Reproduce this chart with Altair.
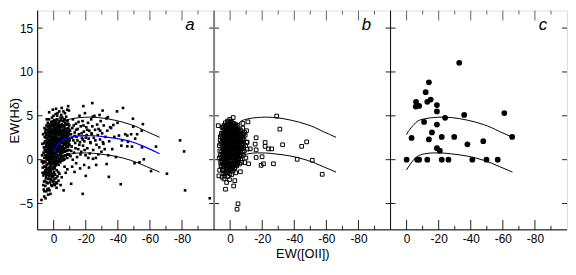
import altair as alt
import pandas as pd

# ------------------------------------------------------------------ data
PANELS = ["a", "b", "c"]

# panel a : EW([OII]) , EW(Hd)  (small filled squares)
A_PTS = [
    (5.8,0.2),(6.1,1.4),(5.6,2.6),(5.9,-0.8),(5.4,3.1),
    (5.1,-0.3),(4.9,0.9),(5.3,2.1),(5.0,3.4),(4.7,1.7),(5.2,-1.2),
    (4.4,0.5),(4.2,1.9),(4.6,2.8),(4.3,-0.6),(4.5,3.9),(4.0,1.1),(4.1,-1.5),
    (3.7,0.0),(3.5,1.3),(3.9,2.4),(3.6,3.2),(3.8,-1.0),(3.4,0.7),(3.7,4.2),(3.3,1.8),
    (3.0,-0.4),(2.8,0.8),(3.1,1.6),(2.9,2.2),(3.2,2.9),(2.7,3.6),(3.0,-1.3),(2.6,0.3),(2.9,4.6),
    (2.3,0.1),(2.1,1.0),(2.5,1.9),(2.2,2.6),(2.4,3.3),(2.0,-0.7),(2.3,0.6),(2.1,4.0),(2.4,-1.6),(1.9,2.0),
    (1.6,-0.2),(1.4,0.5),(1.8,1.2),(1.5,2.1),(1.7,2.8),(1.3,3.5),(1.6,4.3),(1.4,-0.9),(1.8,1.7),(1.2,0.9),
    (0.9,0.3),(0.7,1.1),(1.1,1.8),(0.8,2.5),(1.0,3.0),(0.6,3.8),(0.9,-0.5),(0.7,-1.1),(1.0,4.8),(0.5,1.4),(0.8,2.2),
    (0.2,0.0),(0.0,0.8),(0.4,1.5),(0.1,2.3),(0.3,2.9),(-0.1,3.4),(0.2,4.1),(0.0,-0.8),(0.3,1.0),(0.1,5.0),(-0.2,-1.4),
    (-0.5,0.4),(-0.7,1.2),(-0.3,2.0),(-0.6,2.7),(-0.4,3.2),(-0.8,3.9),(-0.5,-0.3),(-0.7,1.6),(-0.4,4.5),(-0.6,-1.0),(-0.9,2.4),
    (-1.2,-0.1),(-1.4,0.7),(-1.0,1.4),(-1.3,2.2),(-1.1,3.0),(-1.5,3.6),(-1.2,4.4),(-1.4,1.9),(-1.0,-0.7),(-1.3,5.2),
    (-1.9,0.2),(-2.1,1.0),(-1.7,1.8),(-2.0,2.5),(-1.8,3.1),(-2.2,3.8),(-1.9,4.6),(-2.1,-0.4),(-1.7,2.9),(-2.2,1.3),
    (-2.6,0.5),(-2.8,1.3),(-2.4,2.1),(-2.7,2.8),(-2.5,3.4),(-2.9,4.1),(-2.6,-0.2),(-2.8,1.7),(-2.4,5.3),(-2.7,0.9),
    (-3.3,0.0),(-3.5,0.9),(-3.1,1.6),(-3.4,2.4),(-3.2,3.0),(-3.6,3.7),(-3.3,4.3),(-3.5,2.0),(-3.1,-0.6),
    (-4.0,0.6),(-4.2,1.4),(-3.8,2.2),(-4.1,2.9),(-3.9,3.5),(-4.3,4.8),(-4.0,1.1),(-4.2,-0.3),(-3.8,3.2),
    (-4.7,0.3),(-4.9,1.0),(-4.5,1.9),(-4.8,2.6),(-4.6,3.3),(-5.0,4.0),(-4.7,5.1),(-4.9,2.3),
    (-5.4,0.8),(-5.6,1.5),(-5.2,2.4),(-5.5,3.1),(-5.3,3.8),(-5.7,4.4),(-5.4,-0.1),(-5.6,1.9),
    (-6.1,0.4),(-6.3,1.2),(-5.9,2.0),(-6.2,2.8),(-6.0,3.4),(-6.4,4.6),(-6.1,5.5),(-6.3,2.5),
    (-6.8,0.9),(-7.0,1.7),(-6.6,2.3),(-6.9,3.0),(-6.7,3.7),(-7.1,4.2),(-6.8,0.1),
    (-7.5,0.5),(-7.7,1.4),(-7.3,2.1),(-7.6,2.7),(-7.4,3.5),(-7.8,4.9),(-7.5,1.8),
    (-8.2,1.0),(-8.4,1.9),(-8.0,2.6),(-8.3,3.2),(-8.1,4.0),(-8.5,0.2),(-8.2,2.9),
    (-8.9,0.6),(-9.1,1.5),(-8.7,2.3),(-9.0,3.6),(-8.8,4.5),(-9.2,2.0),
    (-9.6,1.1),(-9.8,2.4),(-9.4,3.0),(-9.7,3.9),(-9.5,5.6),(-9.9,1.7),
    # right part of the cloud
    (-10.5,0.4),(-10.8,2.9),(-11.2,1.5),(-11.6,3.6),(-12.0,4.6),(-12.3,2.2),(-12.7,0.8),(-13.1,3.1),
    (-13.4,1.9),(-13.9,4.1),(-14.2,2.6),(-14.6,0.3),(-15.0,3.5),(-15.3,1.2),(-15.7,2.9),(-16.1,5.0),
    (-16.4,2.0),(-16.9,3.8),(-17.2,0.9),(-17.6,2.5),(-18.0,4.4),(-18.3,1.6),(-18.8,3.2),(-19.1,2.1),
    (-19.5,5.3),(-19.9,0.5),(-20.3,3.7),(-20.6,2.8),(-21.0,1.3),(-21.4,4.2),(-21.8,2.4),(-22.2,3.3),
    (-22.5,0.7),(-23.0,1.9),(-23.4,4.6),(-23.8,2.9),(-24.1,3.8),(-24.6,1.1),(-25.0,2.5),(-25.4,5.0),
    (-25.8,3.4),(-26.3,0.2),(-26.7,1.7),(-27.1,4.0),(-27.5,2.8),(-28.0,3.5),(-28.4,1.4),(-28.9,2.3),
    (-29.3,4.4),(-29.8,0.9),(-30.2,3.0),(-30.7,2.0),(-31.2,3.9),(-31.8,1.2),(-32.3,2.6),(-32.9,4.7),
    (-33.4,3.3),(-34.0,0.5),(-34.6,2.1),(-35.2,3.7),
    (-10.2,3.3),(-10.9,1.0),(-11.4,2.5),(-11.9,0.0),(-12.5,3.9),(-13.0,2.7),(-13.6,1.3),(-14.0,3.4),
    (-14.8,2.2),(-15.5,4.3),(-16.0,1.7),(-16.7,0.6),(-17.4,3.0),(-18.1,2.3),(-18.6,3.9),(-19.3,1.1),
    (-20.0,2.5),(-20.9,3.4),(-21.6,0.2),(-22.8,2.0),(-23.6,3.0),(-24.4,4.9),(-26.0,2.2),(-27.8,0.6),(-29.0,3.3),
    (-11.5,-0.8),(-14.0,-0.4),(-16.5,-1.0),(-13.0,-1.4),(-19.0,-0.6),(-22.0,-0.9),(-24.5,0.1),
    # lower-left tail
    (6.8,-0.9),(6.4,-1.8),(6.0,-2.5),(5.6,-1.4),(5.2,-3.0),(4.8,-2.1),(4.5,-3.6),(4.1,-1.7),
    (3.8,-2.7),(3.4,-2.2),(3.1,-3.3),(2.7,-1.9),(2.4,-2.6),(2.0,-3.9),(1.7,-2.3),(1.3,-1.8),
    (1.0,-3.0),(0.6,-2.5),(0.3,-1.9),(-0.1,-2.8),(-0.5,-2.2),(-0.9,-1.7),(-1.3,-2.6),(-1.8,-3.2),
    (-2.4,-1.9),(-3.0,-2.4),(-3.6,-1.6),(-4.3,-2.9),(5.9,-4.2),(7.6,-4.6),(5.1,-4.4),(3.5,-4.0),
    (6.2,-3.4),(2.6,-3.5),(-6.2,-3.5),(-5.0,-2.0),(-7.5,-1.5),(-8.5,-1.1),(-6.8,-0.8),(-10.9,-2.75),
    (7.2,0.5),(7.0,1.8),(6.6,2.9),(7.4,-0.2),
    # upper fringe
    (2.8,5.4),(0.5,5.7),(-1.5,5.8),(-3.5,5.5),(-5.0,5.9),(-7.0,5.3),(-8.5,5.7),(-2.2,5.0),(4.3,4.6),(-9.0,6.1),
    # sparse points
    (-24.1,6.45),(-18.5,6.1),(-43.2,5.9),(-39.5,5.5),(-49.4,4.67),(-55.6,4.05),(-28.6,5.1),(-33.8,4.85),
    (-37.2,3.95),(-35.8,3.6),(-49.6,3.77),(-44.6,2.9),(-48.3,2.9),(-52.0,2.9),(-54.9,3.3),(-40.7,2.75),
    (-45.9,2.75),(-50.8,2.4),(-42.6,2.2),(-46.3,2.03),(-42.2,1.6),(-45.9,1.52),(-48.8,1.49),(-55.1,1.41),
    (-63.8,1.49),(-78.8,2.2),(-81.3,0.94),(-56.2,0.04),(-53.5,-0.3),(-50.4,-0.4),(-60.7,-1.3),(-70.6,-1.6),
    (-41.8,-2.8),(-81.9,-3.5),(-97.3,-4.4),(-34.4,-1.96),(-20.0,-1.85),(-18.1,-3.9),(-36.5,1.2),(-38.8,0.3),
    (-33.0,-0.5),(-31.0,1.8),(-37.8,2.6),(-39.8,4.2),(-30.5,5.6),(-26.5,-0.6),
]
# panel a : more points of the dense core
A_EXTRA = [
    (6.3,0.8),(5.9,1.9),(6.0,-0.2),(5.7,3.6),(5.5,-1.6),(5.4,0.5),(5.6,1.1),
    (4.9,-0.8),(5.1,1.4),(4.8,2.5),(5.0,0.2),(4.7,3.0),(4.6,-1.9),
    (4.3,0.0),(4.1,0.8),(4.4,1.5),(4.2,2.3),(4.0,3.4),(4.5,-1.1),(3.9,2.0),
    (3.6,-0.5),(3.4,0.4),(3.8,1.0),(3.5,1.7),(3.3,2.7),(3.7,3.7),(3.5,-1.7),(3.9,0.3),
    (3.1,0.1),(2.9,1.2),(3.2,1.9),(2.8,2.6),(3.0,3.3),(2.7,-0.9),(3.1,4.0),(2.8,-0.1),
    (2.5,-0.3),(2.3,1.4),(2.6,2.2),(2.2,3.0),(2.4,0.8),(2.1,3.7),(2.5,-1.1),(2.2,0.3),
    (1.9,0.6),(1.7,1.5),(2.0,2.4),(1.6,3.2),(1.8,3.9),(1.5,-0.5),(1.9,-1.3),(1.6,0.1),
    (1.3,0.1),(1.1,0.7),(1.4,1.4),(1.2,2.4),(1.0,2.0),(1.3,3.2),(0.9,4.2),(1.2,-0.3),
    (0.6,0.6),(0.4,1.8),(0.7,2.6),(0.5,3.3),(0.3,-0.3),(0.6,4.4),(0.4,0.3),(0.7,-1.6),
    (0.0,0.3),(-0.2,1.1),(0.1,1.9),(-0.1,2.6),(-0.3,3.7),(0.0,-0.4),(-0.2,0.7),(0.2,3.1),
    (-0.6,0.0),(-0.8,0.9),(-0.5,1.7),(-0.9,2.2),(-0.7,3.0),(-0.6,3.5),(-0.9,4.2),(-0.8,-0.6),
    (-1.3,0.3),(-1.1,1.1),(-1.5,1.6),(-1.2,2.6),(-1.4,3.3),(-1.1,4.0),(-1.5,-0.4),(-1.2,0.9),
    (-1.8,0.6),(-2.0,1.5),(-1.6,2.3),(-2.2,2.9),(-1.9,3.5),(-2.1,4.2),(-1.7,-0.1),(-2.0,2.0),
    (-2.5,0.9),(-2.7,1.6),(-2.3,2.5),(-2.9,3.1),(-2.6,3.8),(-2.4,0.2),(-2.9,2.2),(-2.3,4.6),
    (-3.2,0.5),(-3.4,1.2),(-3.0,2.0),(-3.6,2.8),(-3.3,3.4),(-3.0,4.0),(-3.6,1.5),(-3.2,-0.2),
    (-3.9,0.2),(-4.1,1.0),(-3.7,1.8),(-4.3,2.5),(-4.0,3.9),(-3.7,4.4),(-4.3,0.8),
    (-4.6,0.7),(-4.8,1.5),(-4.4,2.2),(-5.0,3.0),(-4.7,3.7),(-4.5,4.5),(-5.0,0.0),
    (-5.3,1.2),(-5.5,2.0),(-5.1,2.8),(-5.7,3.4),(-5.4,4.8),(-5.2,0.4),
    (-6.0,0.9),(-6.2,1.7),(-5.8,2.5),(-6.4,3.1),(-6.1,3.9),(-6.4,0.0),
    (-6.7,1.3),(-6.9,2.0),(-6.5,2.8),(-7.1,3.4),(-6.8,4.6),(-7.0,0.5),
    (-7.4,1.0),(-7.6,1.9),(-7.2,2.5),(-7.8,3.1),(-7.5,4.0),
    (-8.1,1.5),(-8.3,2.3),(-7.9,3.5),(-8.6,0.6),(-8.4,4.4),
    (-8.8,1.1),(-9.0,2.7),(-8.7,3.2),(-9.3,1.8),(-9.1,4.1),
    (-9.5,0.6),(-9.8,2.9),(-9.6,3.5),(-10.0,2.2),
    (6.5,-2.9),(5.8,-3.6),(4.4,-2.6),(3.9,-3.4),(3.2,-1.5),(2.2,-2.2),(1.5,-2.9),(0.9,-2.0),
    (0.1,-2.4),(-0.7,-2.9),(-1.5,-2.1),(-2.1,-2.7),(-2.8,-1.4),(6.9,-1.5),(6.6,-0.4),(5.3,-2.4),
    (4.7,-1.3),(1.9,-1.6),(-0.3,-1.7),(-1.9,-1.2),
]

# panel b (open squares)
B_PTS = [
    (4.8,-1.2),(4.6,-0.3),(5.0,0.6),(4.7,1.5),(4.9,2.4),(4.5,3.3),
    (4.0,-0.8),(4.2,0.1),(3.8,1.0),(4.1,1.9),(3.9,2.8),(4.3,3.7),(4.0,-1.6),
    (3.3,-1.1),(3.5,-0.2),(3.1,0.5),(3.4,1.3),(3.2,2.1),(3.6,2.9),(3.3,3.5),(3.0,4.2),
    (2.6,-0.6),(2.8,0.2),(2.4,0.9),(2.7,1.7),(2.5,2.5),(2.9,3.1),(2.6,3.9),(2.3,-1.4),
    (1.9,-1.0),(2.1,-0.1),(1.7,0.7),(2.0,1.4),(1.8,2.2),(2.2,2.8),(1.9,3.6),(1.6,4.4),(2.0,0.3),
    (1.2,-0.5),(1.4,0.4),(1.0,1.1),(1.3,1.9),(1.1,2.6),(1.5,3.3),(1.2,4.0),(0.9,-1.3),(1.3,1.5),
    (0.5,-0.9),(0.7,0.0),(0.3,0.8),(0.6,1.6),(0.4,2.3),(0.8,3.0),(0.5,3.8),(0.2,4.6),(0.6,1.2),
    (-0.2,-0.4),(0.0,0.5),(-0.4,1.3),(-0.1,2.0),(-0.3,2.7),(0.1,3.5),(-0.2,4.2),(-0.5,-1.2),(-0.1,1.7),
    (-0.9,-0.8),(-0.7,0.2),(-1.1,1.0),(-0.8,1.8),(-1.0,2.5),(-0.6,3.2),(-0.9,3.9),(-1.2,0.6),
    (-1.6,-0.2),(-1.4,0.7),(-1.8,1.5),(-1.5,2.2),(-1.7,2.9),(-1.3,3.6),(-1.6,-1.0),(-1.9,4.8),
    (-2.3,-0.6),(-2.1,0.3),(-2.5,1.1),(-2.2,1.9),(-2.4,2.6),(-2.0,3.3),(-2.3,4.1),
    (-3.0,0.0),(-2.8,0.9),(-3.2,1.6),(-2.9,2.4),(-3.1,3.0),(-2.7,3.7),(-3.0,-0.9),
    (-3.7,-0.3),(-3.5,0.5),(-3.9,1.3),(-3.6,2.0),(-3.8,2.8),(-3.4,3.5),
    (-4.4,0.2),(-4.2,1.0),(-4.6,1.8),(-4.3,2.5),(-4.5,3.2),(-4.1,-0.7),
    (-5.1,-0.1),(-4.9,0.7),(-5.3,1.5),(-5.0,2.3),(-5.2,3.0),(-4.8,3.9),
    (-5.8,0.4),(-5.6,1.2),(-6.0,2.0),(-5.7,2.7),(-5.9,-0.5),
    (-6.5,0.9),(-6.3,1.7),(-6.7,2.6),(-6.4,3.4),(-6.6,0.1),
    (-7.2,1.3),(-7.0,2.1),(-7.4,2.9),(-7.1,-0.3),
    (-8.0,1.8),(-7.8,2.6),(-8.2,0.5),(-7.9,3.6),
    (-8.8,1.0),(-8.6,2.3),(-9.0,3.1),
    (-9.6,1.6),(-9.4,2.8),(-9.8,0.2),
    (-10.4,2.0),(-10.2,3.3),(-10.6,1.2),
    (5.6,0.2),(5.8,1.8),(5.5,3.0),(5.7,-0.7),(6.4,1.0),(6.2,2.2),(6.5,-1.2),
    (1.5,-1.9),(-1.0,-1.7),(3.8,-2.2),(-3.5,-1.5),(2.2,-2.6),(5.0,-2.0),(-2.2,-3.0),
    (7.4,3.88),(7.0,-1.85),(3.3,-1.85),(2.9,-3.37),(0.4,-2.28),(-2.9,-2.39),(-4.9,-5.03),(-4.3,-5.65),
    (-6.4,-1.38),(-29.0,4.97),(-31.0,3.48),(-32.7,1.7),(-47.7,2.03),(-44.6,1.52),(-41.8,0.04),
    (-51.2,-0.07),(-57.4,-1.67),(-27.0,-0.47),(-20.8,-0.47),(-19.3,-0.65),(-16.2,0.25),(-19.9,0.33),
    (-11.5,-0.47),(-9.1,-0.33),(-21.8,1.96),(-21.8,1.52),(-23.9,1.23),(-25.9,1.23),(-15.6,1.77),
    (-16.2,2.5),(-16.2,1.12),(-12.5,1.23),(-10.5,1.96),(-11.1,4.31),(-8.0,4.13),(-1.9,4.13),
]
# panel b : more points of the dense core
B_EXTRA = [
    (5.2,-0.8),(5.3,0.9),(5.1,2.0),(5.4,2.8),(5.0,3.7),(5.3,-0.1),
    (4.4,-0.5),(4.3,0.5),(4.5,1.2),(4.2,2.2),(4.4,3.0),(4.1,-1.2),
    (3.7,-0.6),(3.6,0.2),(3.9,0.8),(3.5,1.6),(3.7,2.5),(3.4,3.2),(3.8,3.9),
    (3.0,-0.4),(2.9,0.6),(3.1,1.1),(2.8,1.9),(3.0,2.6),(2.8,3.4),(3.1,-1.5),
    (2.3,-0.9),(2.4,0.1),(2.2,0.6),(2.5,1.3),(2.3,2.0),(2.4,3.3),(2.1,4.0),
    (1.6,-0.6),(1.7,0.2),(1.5,1.0),(1.8,1.8),(1.6,2.5),(1.4,3.0),(1.7,3.9),(1.5,-1.5),
    (0.9,-0.2),(0.8,0.6),(1.0,1.4),(0.7,2.1),(0.9,2.9),(0.7,3.6),(1.0,4.3),(0.9,-1.0),
    (0.2,-0.7),(0.3,0.2),(0.1,1.0),(0.3,1.9),(0.1,2.7),(0.3,3.2),(0.0,4.0),(0.2,-1.6),
    (-0.5,-0.1),(-0.6,0.8),(-0.4,1.6),(-0.6,2.3),(-0.5,3.0),(-0.7,3.7),(-0.4,4.4),(-0.7,-1.0),
    (-1.2,-0.5),(-1.3,0.4),(-1.1,1.3),(-1.3,2.0),(-1.2,2.8),(-1.1,3.5),(-1.4,4.2),
    (-1.9,-0.5),(-2.0,0.5),(-1.8,1.2),(-2.0,1.9),(-1.9,2.6),(-1.8,3.1),(-2.1,3.8),(-1.7,-1.3),
    (-2.6,-0.2),(-2.7,0.6),(-2.5,1.5),(-2.7,2.2),(-2.6,2.9),(-2.5,3.5),(-2.8,-1.0),
    (-3.3,-0.6),(-3.4,0.3),(-3.2,1.1),(-3.4,1.9),(-3.3,2.6),(-3.2,3.2),(-3.5,4.0),
    (-4.0,-0.2),(-4.1,0.6),(-3.9,1.5),(-4.1,2.3),(-4.0,3.1),(-3.9,3.8),
    (-4.7,-0.4),(-4.8,0.4),(-4.6,1.3),(-4.8,2.0),(-4.7,2.7),(-4.6,3.4),
    (-5.4,0.0),(-5.5,0.9),(-5.3,1.8),(-5.5,2.6),(-5.4,3.3),
    (-6.1,0.6),(-6.2,1.4),(-6.0,2.3),(-6.2,3.0),
    (-6.8,0.4),(-6.9,1.2),(-6.7,2.1),(-7.0,3.0),
    (-7.6,0.9),(-7.5,1.6),(-7.7,2.3),(-8.4,1.4),(-8.3,2.9),
    (6.0,0.5),(6.1,2.6),(5.9,-0.3),(6.7,1.6),(6.8,0.2),
]

# panel c (filled circles)
C_X = [0, -3.1, -6.6, -7.8, -12.9, -21.9, -26.1, -41.0, -49.8, -56.8, -5.9, -5.7, -7.8, -11.9,
       -13.9, -12.9, -15.0, -18.9, -18.9, -10.9, -18.9, -15.8, -13.9, -21.9, -18.9, -20.7, -24.0,
       -29.7, -35.9, -37.9, -47.8, -32.8, -60.9, -65.8]
C_Y = [0, 2.48, 0, 0, 0, 0, 0, 0, 0, 0, 6.59, 6.05, 6.12, 7.69,
       8.82, 6.59, 6.85, 6.23, 5.5, 4.3, 4.0, 3.1, 2.3, 2.59, 1.31, 1.02, 4.77,
       2.59, 5.1, 1.75, 2.11, 11.04, 5.32, 2.59]

# model curves (all panels)
CURVE_X = [0, -1, -2, -4, -7, -11, -17, -22, -28, -33, -38, -43, -48, -53, -58, -62, -66]
CURVE_UP = [2.85, 3.2, 3.45, 3.9, 4.4, 4.65, 4.8, 4.85, 4.8, 4.68, 4.5, 4.28, 4.0, 3.65, 3.2, 2.88, 2.55]
CURVE_LO = [-1.17, -0.85, -0.6, -0.1, 0.4, 0.66, 0.77, 0.76, 0.66, 0.55, 0.4, 0.2, -0.07, -0.4, -0.8, -1.1, -1.42]

# blue curve (panel a)
BLUE_X = [0, -1, -2, -3.5, -5, -7, -9.5, -13, -19.5, -25, -32, -38, -44, -50, -55, -60, -66]
BLUE_Y = [0.87, 1.25, 1.6, 1.9, 2.14, 2.35, 2.5, 2.65, 2.75, 2.73, 2.6, 2.45, 2.25, 1.95, 1.6, 1.2, 0.68]

X_MAJOR = [0, -20, -40, -60, -80]
X_MINOR = [-10, -30, -50, -70, -90]
Y_TICKS = [-5, 0, 5, 10, 15]

# ------------------------------------------------------------------ layout
X_LEFT, SPAN = 10, 110          # each panel shows EW([OII]) from +10 to -100
Y_DOM = [-8, 17]
W, H = 536, 222
FONT = "Liberation Sans"
GX = f"datum.p*{SPAN} + {X_LEFT} - datum.x"

xaxis = alt.Axis(
    values=[p * SPAN + X_LEFT - v for p in range(3) for v in X_MAJOR],
    labelExpr=f"'' + ({X_LEFT} - datum.value % {SPAN})",
    title="EW([OII])", ticks=False, domain=False, grid=False, labelFlush=False,
    labelPadding=4, labelFontSize=12, labelFont=FONT, labelColor="black",
    titleFontSize=13, titleFont=FONT, titleFontWeight="normal", titleColor="black",
    titleY=18, titleBaseline="top",
)
yaxis = alt.Axis(
    values=Y_TICKS, title="EW(Hδ)", ticks=False, domain=False, grid=False,
    labelPadding=5, labelFontSize=12, labelFont=FONT, labelColor="black",
    titleFontSize=13, titleFont=FONT, titleFontWeight="normal", titleColor="black",
    titleX=-29, titleY=H / 2, titleAngle=-90, titleBaseline="top", titleAlign="center",
)
X = alt.X("gx:Q", scale=alt.Scale(domain=[0, 3 * SPAN], nice=False, zero=False), axis=xaxis)
Y = alt.Y("y:Q", scale=alt.Scale(domain=Y_DOM, nice=False, zero=False), axis=yaxis)

def pts(lst, p):
    return pd.DataFrame(lst, columns=["x", "y"]).assign(p=p)

df_a = pts(A_PTS + A_EXTRA, 0)
df_b = pts(B_PTS + B_EXTRA, 1)
df_c = pd.DataFrame({"x": C_X, "y": C_Y}).assign(p=2)

curve_rows = []
for p in range(3):
    for name, ys in (("up", CURVE_UP), ("lo", CURVE_LO)):
        for x, y in zip(CURVE_X, ys):
            curve_rows.append({"p": p, "x": x, "y": y, "cid": f"{p}{name}"})
df_curves = pd.DataFrame(curve_rows)
df_blue = pd.DataFrame({"x": BLUE_X, "y": BLUE_Y}).assign(p=0)

layer_a = alt.Chart(df_a).transform_calculate(gx=GX).mark_square(
    size=7, color="black", opacity=1).encode(x=X, y=Y)
layer_b = alt.Chart(df_b).transform_calculate(gx=GX).mark_square(
    size=14, filled=False, color="black", strokeWidth=1, opacity=1).encode(x=X, y=Y)
layer_c = alt.Chart(df_c).transform_calculate(gx=GX).mark_circle(
    size=34, color="black", opacity=1).encode(x=X, y=Y)
layer_curves = alt.Chart(df_curves).transform_calculate(gx=GX).mark_line(
    color="black", strokeWidth=1, interpolate="monotone").encode(x=X, y=Y, detail="cid:N")
layer_blue = alt.Chart(df_blue).transform_calculate(gx=GX).mark_line(
    color="#0000ff", strokeWidth=1.2, interpolate="monotone").encode(x=X, y=Y)

# inward tick marks of every panel
xt = pd.DataFrame([{"p": p, "x": v, "kind": k}
                   for p in range(3)
                   for k, vals in (("major", X_MAJOR), ("minor", X_MINOR))
                   for v in vals])
TICK = "#222222"
tick_layers = []
for kind, ln in (("major", 10), ("minor", 4)):
    base = alt.Chart(xt).transform_filter(f"datum.kind == '{kind}'")
    tick_layers.append(base.transform_calculate(gx=GX, y=f"{Y_DOM[0]}").mark_rule(
        color=TICK, strokeWidth=1, y2Offset=-ln).encode(x=X, y=Y, y2="y:Q"))
    tick_layers.append(base.transform_calculate(gx=GX, y=f"{Y_DOM[1]}").mark_rule(
        color="#666666", strokeWidth=1, y2Offset=ln).encode(x=X, y=Y, y2="y:Q"))

yt = pd.DataFrame([{"b": b, "y": v} for b in range(4) for v in Y_TICKS])
for cond, xo, x2o in (("datum.b == 0", 0, 5), ("datum.b == 1 || datum.b == 2", -5, 5), ("datum.b == 3", 0, -5)):
    tick_layers.append(alt.Chart(yt).transform_filter(cond).transform_calculate(
        gx=f"datum.b*{SPAN}").mark_rule(color=TICK, strokeWidth=1, xOffset=xo, x2Offset=x2o)
        .encode(x=X, x2="gx:Q", y=Y))

# panel frames
frame_v = pd.DataFrame({"b": [0, 1, 2], "col": ["black", "#808080", "black"], "w": [1, 2, 1]})
frame_layer_v = alt.Chart(frame_v).transform_calculate(
    gx=f"datum.b*{SPAN}", y=f"{Y_DOM[0]}", y2=f"{Y_DOM[1]}").mark_rule().encode(
    x=X, y=Y, y2="y2:Q", color=alt.Color("col:N", scale=None),
    strokeWidth=alt.StrokeWidth("w:Q", scale=None))
frame_h = pd.DataFrame({"b": [0]})
frame_layer_h = alt.Chart(frame_h).transform_calculate(
    gx="0", gx2=f"{3 * SPAN}", y=f"{Y_DOM[0]}").mark_rule(color="black", strokeWidth=1).encode(
    x=X, x2="gx2:Q", y=Y)

# panel letters
lab = pd.DataFrame({"p": list(range(3)), "t": PANELS})
lab_layer = alt.Chart(lab).transform_calculate(gx=f"datum.p*{SPAN} + 95", y="15.3").mark_text(
    font=FONT, fontSize=17, fontStyle="italic", align="center", baseline="middle", color="black"
).encode(x=X, y=Y, text="t:N")

chart = alt.layer(
    layer_a, layer_b, layer_c, layer_curves, layer_blue,
    *tick_layers, frame_layer_v, frame_layer_h, lab_layer,
).properties(
    width=W, height=H,
    autosize=alt.AutoSizeParams(type="none"),
    padding={"left": 30, "top": 1, "right": 1, "bottom": 33},
).configure_view(stroke="#808080", strokeWidth=1.5).configure(font=FONT)

chart.save("out.html", embed_options={"renderer": "svg", "actions": False})
